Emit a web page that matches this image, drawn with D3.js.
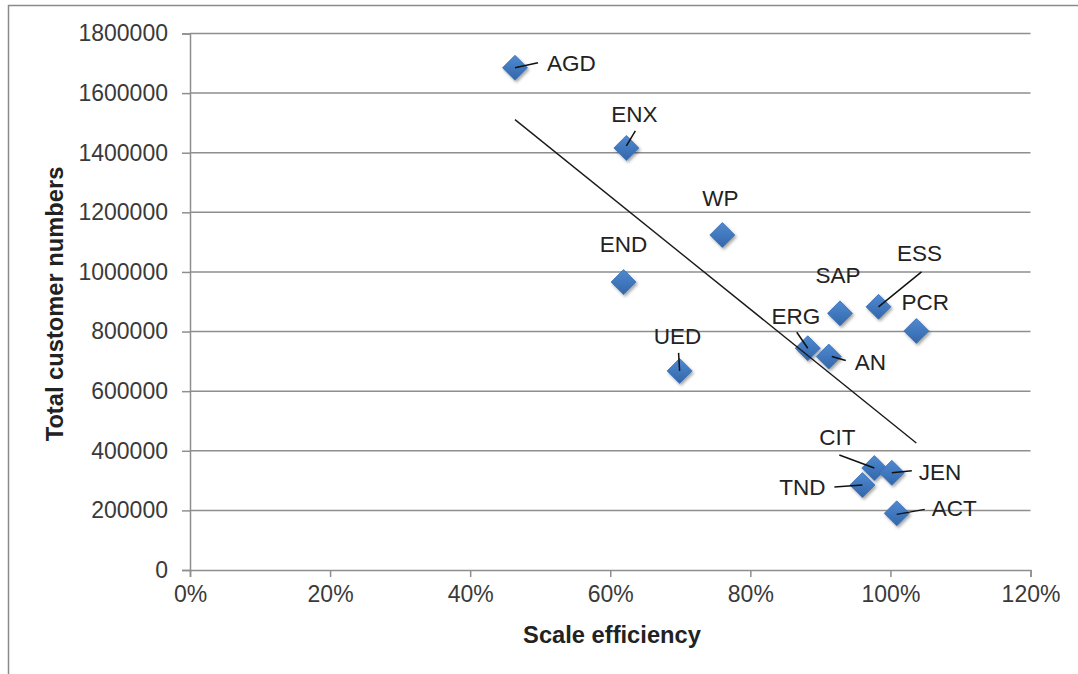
<!DOCTYPE html>
<html>
<head>
<meta charset="utf-8">
<script src="https://cdn.jsdelivr.net/npm/d3@7"></script>
<style>
  html, body { margin: 0; padding: 0; background: #fff; }
  svg { display: block; }
  text { font-family: "Liberation Sans", Arial, sans-serif; }
</style>
</head>
<body>
<svg id="chart" width="1078" height="674"></svg>
<script>
// ---- data ----
const names = ["AGD", "ENX", "WP", "END", "UED", "SAP", "ESS", "PCR", "ERG", "AN", "CIT", "JEN", "TND", "ACT"];
const scaleEfficiency = [0.464, 0.623, 0.760, 0.619, 0.699, 0.928, 0.983, 1.037, 0.882, 0.912, 0.977, 1.002, 0.960, 1.009];
const customers = [1685000, 1416000, 1124000, 966000, 668000, 861000, 883000, 802000, 744000, 716000, 342000, 326000, 285000, 190000];
const xTicks = [0, 0.2, 0.4, 0.6, 0.8, 1.0, 1.2];
const yTicks = [0, 200000, 400000, 600000, 800000, 1000000, 1200000, 1400000, 1600000, 1800000];

// ---- label layout (pixel offsets from each marker; not data) ----
const labelLayout = {
  AGD: { dx: 32, dy: -5, anchor: "start", leader: [[0, 0], [23, -5]] },
  ENX: { dx: 8, dy: -34, anchor: "middle", leader: [[0, -2], [9, -17]] },
  WP:  { dx: -2, dy: -37, anchor: "middle" },
  END: { dx: 0, dy: -38, anchor: "middle" },
  UED: { dx: -2, dy: -35, anchor: "middle", leader: [[-1, -18], [0, 0]] },
  SAP: { dx: -2, dy: -38, anchor: "middle" },
  ESS: { dx: 41, dy: -54, anchor: "middle", leader: [[43, -35], [0, 0]] },
  PCR: { dx: 9, dy: -29, anchor: "middle" },
  ERG: { dx: -12, dy: -32, anchor: "middle", leader: [[-11, -16], [0, 0]] },
  AN:  { dx: 26, dy: 6, anchor: "start", leader: [[17, 4], [3, 0]] },
  CIT: { dx: -37, dy: -31, anchor: "middle", leader: [[-35, -13], [0, 0]] },
  JEN: { dx: 27, dy: -1, anchor: "start", leader: [[20, -2], [0, 0]] },
  TND: { dx: -37, dy: 2, anchor: "end", leader: [[-28, 2], [0, 0]] },
  ACT: { dx: 35, dy: -5, anchor: "start", leader: [[28, -4], [0, 1]] }
};

const points = names.map((n, i) => ({ name: n, x: scaleEfficiency[i], y: customers[i] }));

const svg = d3.select("#chart");
const plot = { left: 190, right: 1030.5, top: 33.5, bottom: 570 };

// outer chart border (extends beyond the frame on right/bottom)
svg.append("rect")
  .attr("x", 8.5).attr("y", 5.5).attr("width", 1200).attr("height", 800)
  .attr("fill", "#fff").attr("stroke", "#8a8a8a").attr("stroke-width", 1.5);

const x = d3.scaleLinear().domain([0, 1.2]).range([plot.left, plot.right]);
const y = d3.scaleLinear().domain([0, 1800000]).range([plot.bottom, plot.top]);

const gridColor = "#8e8e8e";
const textColor = "#3a3a3a";

// horizontal gridlines
svg.append("g")
  .selectAll("line")
  .data(yTicks.filter(d => d > 0))
  .join("line")
  .attr("x1", plot.left).attr("x2", plot.right)
  .attr("y1", d => y(d)).attr("y2", d => y(d))
  .attr("stroke", gridColor).attr("stroke-width", 1.5);

// y axis
const yAxis = d3.axisLeft(y).tickValues(yTicks).tickFormat(d3.format("d")).tickSize(8).tickPadding(14);
const gy = svg.append("g").attr("transform", `translate(${plot.left},0)`).call(yAxis);
gy.select(".domain").attr("stroke", gridColor).attr("stroke-width", 1.5);
gy.selectAll(".tick line").attr("stroke", gridColor).attr("stroke-width", 1.5);
gy.selectAll(".tick text").attr("font-size", 23).attr("fill", textColor)
  .attr("font-family", "'Liberation Sans', Arial, sans-serif");

// x axis
const xAxis = d3.axisBottom(x).tickValues(xTicks).tickFormat(d3.format(".0%")).tickSize(7).tickPadding(9);
const gx = svg.append("g").attr("transform", `translate(0,${plot.bottom})`).call(xAxis);
gx.select(".domain").attr("stroke", gridColor).attr("stroke-width", 1.5);
gx.selectAll(".tick line").attr("stroke", gridColor).attr("stroke-width", 1.5);
gx.selectAll(".tick text").attr("font-size", 23).attr("fill", textColor)
  .attr("font-family", "'Liberation Sans', Arial, sans-serif");

// axis titles
svg.append("text")
  .attr("x", 612).attr("y", 635).attr("dy", "0.35em")
  .attr("text-anchor", "middle")
  .attr("font-size", 23.7).attr("font-weight", "bold").attr("fill", "#222")
  .text("Scale efficiency");
svg.append("text")
  .attr("transform", "translate(55,304) rotate(-90)")
  .attr("dy", "0.35em")
  .attr("text-anchor", "middle")
  .attr("font-size", 23.7).attr("font-weight", "bold").attr("fill", "#222")
  .text("Total customer numbers");

// defs: marker gradient + shadow
const defs = svg.append("defs");
const grad = defs.append("linearGradient").attr("id", "dg").attr("x1", 0).attr("y1", 0).attr("x2", 0).attr("y2", 1);
grad.append("stop").attr("offset", "0%").attr("stop-color", "#4f8ad2");
grad.append("stop").attr("offset", "100%").attr("stop-color", "#3366aa");
const sh = defs.append("filter").attr("id", "sh").attr("x", "-50%").attr("y", "-50%").attr("width", "200%").attr("height", "200%");
sh.append("feDropShadow").attr("dx", 1.5).attr("dy", 2).attr("stdDeviation", 1.6)
  .attr("flood-color", "#000").attr("flood-opacity", 0.35);

// markers
const r = 12.5;
const diamond = `M0,${-r}L${r},0L0,${r}L${-r},0Z`;
svg.append("g")
  .selectAll("path")
  .data(points)
  .join("path")
  .attr("transform", d => `translate(${x(d.x)},${y(d.y)})`)
  .attr("d", diamond)
  .attr("fill", "url(#dg)")
  .attr("stroke", "#3a6fb3").attr("stroke-width", 0.8)
  .attr("filter", "url(#sh)");

// linear trendline (least squares over the data)
const mx = d3.mean(points, d => d.x), my = d3.mean(points, d => d.y);
const slope = d3.sum(points, d => (d.x - mx) * (d.y - my)) / d3.sum(points, d => (d.x - mx) ** 2);
const intercept = my - slope * mx;
const [xmin, xmax] = d3.extent(points, d => d.x);
svg.append("line")
  .attr("x1", x(xmin)).attr("y1", y(intercept + slope * xmin))
  .attr("x2", x(xmax)).attr("y2", y(intercept + slope * xmax))
  .attr("stroke", "#1a1a1a").attr("stroke-width", 1.4);

// leader lines
const lg = svg.append("g");
points.forEach(p => {
  const L = labelLayout[p.name];
  if (!L.leader) return;
  const px = x(p.x), py = y(p.y);
  lg.append("line")
    .attr("x1", px + L.leader[0][0]).attr("y1", py + L.leader[0][1])
    .attr("x2", px + L.leader[1][0]).attr("y2", py + L.leader[1][1])
    .attr("stroke", "#111").attr("stroke-width", 1.5);
});

// data labels
svg.append("g")
  .selectAll("text")
  .data(points)
  .join("text")
  .attr("x", d => x(d.x) + labelLayout[d.name].dx)
  .attr("y", d => y(d.y) + labelLayout[d.name].dy)
  .attr("dy", "0.35em")
  .attr("text-anchor", d => labelLayout[d.name].anchor)
  .attr("font-size", 22.5).attr("fill", "#222")
  .text(d => d.name);
</script>
</body>
</html>
